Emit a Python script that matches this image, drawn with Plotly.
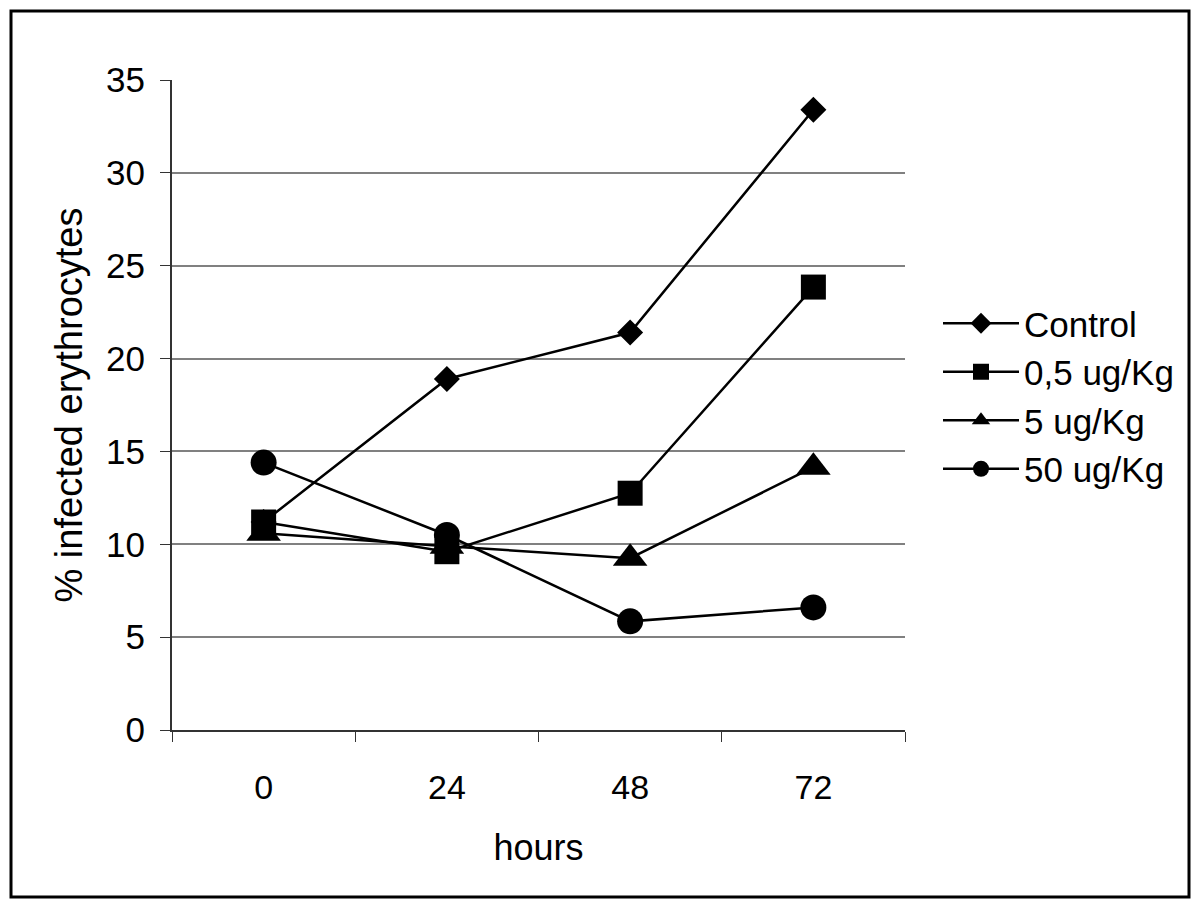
import plotly.graph_objects as go

hours = ["0", "24", "48", "72"]
control = [11.2, 18.9, 21.4, 33.4]
dose_05 = [11.2, 9.6, 12.75, 23.85]
dose_5 = [10.6, 9.9, 9.25, 14.15]
dose_50 = [14.4, 10.5, 5.85, 6.6]

series = [
    ("Control", control, "diamond", 20),
    ("0,5 ug/Kg", dose_05, "square", 25),
    ("5 ug/Kg", dose_5, "triangle-up", 30),
    ("50 ug/Kg", dose_50, "circle", 26),
]

FONT = "Liberation Sans, Arial, sans-serif"

fig = go.Figure()
for name, vals, sym, sz in series:
    fig.add_trace(go.Scatter(
        x=hours, y=vals, name=name, mode="lines+markers",
        line=dict(color="black", width=2.5),
        marker=dict(symbol=sym, size=sz, color="black"),
    ))

# page body has an 8px margin; work in screen pixels and convert
OFF = 8
W, H = 1200 - OFF, 909 - OFF
X0, X1, Y0, Y1 = 172, 905, 80, 730  # plot area on screen
L, R, T, B = X0 - OFF, W - (X1 - OFF), Y0 - OFF, H - (Y1 - OFF)
pw, ph = X1 - X0, Y1 - Y0

def px(x):
    return (x - X0) / pw

def py(y):
    return (Y1 - y) / ph

fig.update_layout(
    width=W, height=H,
    margin=dict(l=L, r=R, t=T, b=B),
    paper_bgcolor="white", plot_bgcolor="white",
    font=dict(family=FONT, size=32, color="black"),
    showlegend=True,
    legend=dict(
        x=px(938), y=py(396), xanchor="left", yanchor="middle",
        font=dict(size=35), itemwidth=76, tracegroupgap=0,
        bgcolor="rgba(0,0,0,0)",
    ),
    xaxis=dict(
        type="category", range=[-0.5, 3.5],
        tickson="boundaries", ticks="outside", ticklen=10, tickcolor="#333",
        showline=True, linecolor="#333", linewidth=2,
        showgrid=False, zeroline=False,
        tickfont=dict(size=34), ticklabelstandoff=26,
        title=dict(text="hours", font=dict(size=36), standoff=30),
    ),
    yaxis=dict(
        range=[0, 35], dtick=5, tick0=0,
        ticks="outside", ticklen=10, tickcolor="#333",
        showline=True, linecolor="#333", linewidth=2,
        showgrid=True, gridcolor="#808080", gridwidth=2,
        zeroline=False,
        tickfont=dict(size=35), ticklabelstandoff=8,
        title=dict(text="% infected erythrocytes", font=dict(size=38), standoff=12),
    ),
    shapes=[dict(
        type="rect", xref="paper", yref="paper",
        x0=px(11), x1=px(1189), y0=py(11), y1=py(897),
        line=dict(color="black", width=3), fillcolor="rgba(0,0,0,0)",
        layer="below",
    )],
)

fig.write_html("out.html")
